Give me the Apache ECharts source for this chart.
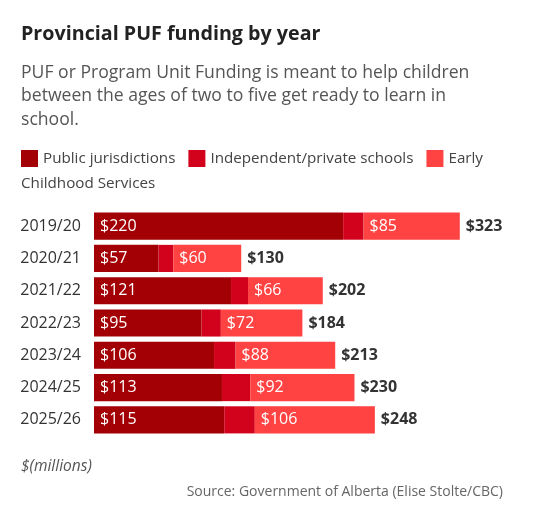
<!DOCTYPE html>
<html>
<head>
<meta charset="utf-8">
<style>
  html, body { margin: 0; padding: 0; background: #fff; }
  #chart { width: 552px; height: 511px; }
</style>
<script src="https://cdn.jsdelivr.net/npm/echarts@6/dist/echarts.min.js"></script>
</head>
<body>
<div id="chart"></div>
<script>
// data
var years = ['2019/20', '2020/21', '2021/22', '2022/23', '2023/24', '2024/25', '2025/26'];
var publicJur = [220, 57, 121, 95, 106, 113, 115];
var independent = [18, 13, 15, 17, 19, 25, 27];
var earlyChild = [85, 60, 66, 72, 88, 92, 106];
var seriesNames = ['Public jurisdictions', 'Independent/private schools', 'Early Childhood Services'];

var totals = years.map(function (y, i) {
  return publicJur[i] + independent[i] + earlyChild[i];
});

var font = '"Open Sans", "Noto Sans", sans-serif';
var myChart = echarts.init(document.getElementById('chart'));

var insideLabel = {
  show: true,
  position: 'insideLeft',
  distance: 6,
  color: '#fff',
  fontFamily: font,
  fontSize: 16,
  formatter: function (p) { return '$' + p.value; }
};

var option = {
  animation: false,
  textStyle: { fontFamily: font },
  title: [
    {
      text: 'Provincial PUF funding by year',
      left: 21, top: 24, padding: 0,
      textStyle: { fontFamily: font, fontSize: 19.7, fontWeight: 'bold', color: '#222' }
    },
    {
      text: 'PUF or Program Unit Funding is meant to help children\nbetween the ages of two to five get ready to learn in\nschool.',
      left: 21, top: 61, padding: 0,
      textStyle: { fontFamily: font, fontSize: 17.6, fontWeight: 'normal', color: '#555', lineHeight: 23.5 }
    }
  ],
  legend: {
    left: 21, top: 150, padding: 0,
    itemWidth: 17, itemHeight: 17,
    itemGap: 13,
    icon: 'rect',
    selectedMode: false,
    data: seriesNames,
    textStyle: { fontFamily: font, fontSize: 15.2, color: '#444' },
    formatter: function (name) {
      return name === 'Early Childhood Services' ? 'Early' : name;
    }
  },
  graphic: [
    {
      type: 'text', left: 21, top: 176,
      style: { text: 'Childhood Services', fontFamily: font, fontSize: 15.2, fill: '#444' }
    },
    {
      type: 'text', left: 21, top: 459,
      style: { text: '$(millions)', fontFamily: font, fontSize: 15.5, fontStyle: 'italic', fill: '#555' }
    },
    {
      type: 'text', right: 49, top: 485,
      style: { text: 'Source: Government of Alberta (Elise Stolte/CBC)', fontFamily: font, fontSize: 14, fill: '#666' }
    }
  ],
  grid: { left: 94, right: 5, top: 210, bottom: 75, containLabel: false },
  xAxis: {
    type: 'value', min: 0, max: 400,
    show: false
  },
  yAxis: {
    type: 'category',
    data: years,
    inverse: true,
    axisLine: { show: false },
    axisTick: { show: false },
    axisLabel: { margin: 13, fontFamily: font, fontSize: 16, color: '#333' }
  },
  series: [
    {
      name: seriesNames[0], type: 'bar', stack: 'total',
      barCategoryGap: '16%',
      itemStyle: { color: '#a20005' },
      label: insideLabel,
      data: publicJur
    },
    {
      name: seriesNames[1], type: 'bar', stack: 'total',
      itemStyle: { color: '#d2011c' },
      data: independent
    },
    {
      name: seriesNames[2], type: 'bar', stack: 'total',
      itemStyle: { color: '#ff4242' },
      label: insideLabel,
      data: earlyChild
    },
    {
      // invisible series to place total labels at the end of each bar
      name: 'total', type: 'bar', stack: 'total',
      itemStyle: { color: 'transparent' },
      label: {
        show: true, position: 'insideLeft', distance: 6,
        color: '#333', fontFamily: font, fontSize: 16, fontWeight: 'bold',
        formatter: function (p) { return '$' + totals[p.dataIndex]; }
      },
      data: totals.map(function () { return 0.001; })
    }
  ]
};

myChart.setOption(option);
</script>
</body>
</html>
